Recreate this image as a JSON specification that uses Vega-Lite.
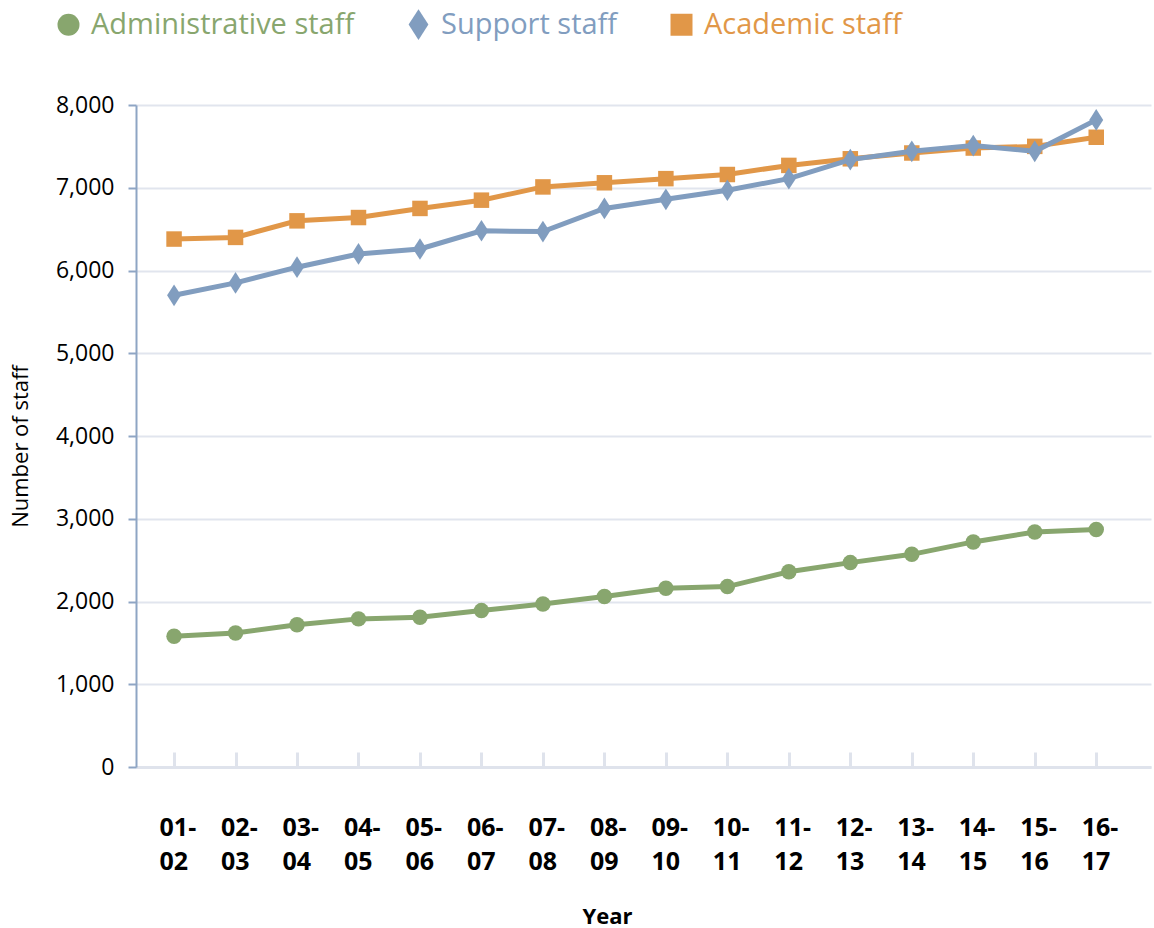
{
  "$schema": "https://vega.github.io/schema/vega-lite/v6.json",
  "width": 1015,
  "height": 662,
  "autosize": "none",
  "padding": {"left": 136, "top": 105, "right": 3, "bottom": 161},
  "config": {
    "font": "Open Sans",
    "view": {"stroke": null},
    "legend": {"labelFont": "Open Sans"}
  },
  "data": {
    "values": [
      {"year": "01-02", "group": "Administrative staff", "staff": 1580},
      {"year": "02-03", "group": "Administrative staff", "staff": 1620},
      {"year": "03-04", "group": "Administrative staff", "staff": 1720},
      {"year": "04-05", "group": "Administrative staff", "staff": 1790},
      {"year": "05-06", "group": "Administrative staff", "staff": 1810},
      {"year": "06-07", "group": "Administrative staff", "staff": 1890},
      {"year": "07-08", "group": "Administrative staff", "staff": 1970},
      {"year": "08-09", "group": "Administrative staff", "staff": 2060},
      {"year": "09-10", "group": "Administrative staff", "staff": 2160},
      {"year": "10-11", "group": "Administrative staff", "staff": 2180},
      {"year": "11-12", "group": "Administrative staff", "staff": 2360},
      {"year": "12-13", "group": "Administrative staff", "staff": 2470},
      {"year": "13-14", "group": "Administrative staff", "staff": 2570},
      {"year": "14-15", "group": "Administrative staff", "staff": 2720},
      {"year": "15-16", "group": "Administrative staff", "staff": 2840},
      {"year": "16-17", "group": "Administrative staff", "staff": 2870},
      {"year": "01-02", "group": "Academic staff", "staff": 6380},
      {"year": "02-03", "group": "Academic staff", "staff": 6400},
      {"year": "03-04", "group": "Academic staff", "staff": 6600},
      {"year": "04-05", "group": "Academic staff", "staff": 6640},
      {"year": "05-06", "group": "Academic staff", "staff": 6750},
      {"year": "06-07", "group": "Academic staff", "staff": 6850},
      {"year": "07-08", "group": "Academic staff", "staff": 7010},
      {"year": "08-09", "group": "Academic staff", "staff": 7060},
      {"year": "09-10", "group": "Academic staff", "staff": 7110},
      {"year": "10-11", "group": "Academic staff", "staff": 7160},
      {"year": "11-12", "group": "Academic staff", "staff": 7270},
      {"year": "12-13", "group": "Academic staff", "staff": 7350},
      {"year": "13-14", "group": "Academic staff", "staff": 7420},
      {"year": "14-15", "group": "Academic staff", "staff": 7480},
      {"year": "15-16", "group": "Academic staff", "staff": 7500},
      {"year": "16-17", "group": "Academic staff", "staff": 7610},
      {"year": "01-02", "group": "Support staff", "staff": 5700},
      {"year": "02-03", "group": "Support staff", "staff": 5850},
      {"year": "03-04", "group": "Support staff", "staff": 6040},
      {"year": "04-05", "group": "Support staff", "staff": 6200},
      {"year": "05-06", "group": "Support staff", "staff": 6260},
      {"year": "06-07", "group": "Support staff", "staff": 6480},
      {"year": "07-08", "group": "Support staff", "staff": 6470},
      {"year": "08-09", "group": "Support staff", "staff": 6750},
      {"year": "09-10", "group": "Support staff", "staff": 6860},
      {"year": "10-11", "group": "Support staff", "staff": 6970},
      {"year": "11-12", "group": "Support staff", "staff": 7110},
      {"year": "12-13", "group": "Support staff", "staff": 7340},
      {"year": "13-14", "group": "Support staff", "staff": 7440},
      {"year": "14-15", "group": "Support staff", "staff": 7510},
      {"year": "15-16", "group": "Support staff", "staff": 7440},
      {"year": "16-17", "group": "Support staff", "staff": 7820}
    ]
  },
  "encoding": {
    "x": {
      "field": "year",
      "type": "ordinal",
      "sort": null,
      "scale": {"type": "point", "padding": 0.755, "align": 0.41},
      "axis": {
        "title": "Year",
        "titleFontSize": 22,
        "titleFontWeight": "bold",
        "titleColor": "#000000",
        "titleX": 471,
        "titleY": 139,
        "labelAngle": 0,
        "labelFontSize": 25,
        "labelFontWeight": "bold",
        "labelColor": "#000000",
        "labelLineHeight": 34,
        "labelAlign": "left",
        "labelOffset": -15,
        "labelPadding": 63,
        "labelExpr": "[slice(datum.label, 0, 3), slice(datum.label, 3)]",
        "domainColor": "#dfe3ec",
        "domainWidth": 3,
        "tickColor": "#dfe3ec",
        "tickWidth": 3,
        "tickSize": -15,
        "grid": false
      }
    },
    "y": {
      "field": "staff",
      "type": "quantitative",
      "scale": {"domain": [0, 8000], "nice": false},
      "axis": {
        "title": "Number of staff",
        "titleFontSize": 22,
        "titleFontWeight": "normal",
        "titleColor": "#000000",
        "titlePadding": 23,
        "titleY": 341,
        "values": [0, 1000, 2000, 3000, 4000, 5000, 6000, 7000, 8000],
        "format": ",.0f",
        "labelFontSize": 23,
        "labelColor": "#000000",
        "labelPadding": 14,
        "domainColor": "#8ea5c4",
        "domainWidth": 2,
        "tickColor": "#8ea5c4",
        "tickWidth": 2,
        "tickSize": 8,
        "gridColor": "#e1e5ee",
        "gridWidth": 2
      }
    },
    "color": {
      "field": "group",
      "type": "nominal",
      "scale": {
        "domain": ["Administrative staff", "Support staff", "Academic staff"],
        "range": ["#88a66e", "#819dbf", "#e19748"]
      },
      "legend": {
        "title": null,
        "orient": "none",
        "direction": "horizontal",
        "legendX": -82,
        "legendY": -95,
        "labelFontSize": 29,
        "labelOffset": 8,
        "columnPadding": 49,
        "symbolSize": 484,
        "symbolStrokeWidth": 0,
        "symbolOpacity": 1,
        "labelLimit": 400,
        "encode": {
          "labels": {"update": {"fill": {"scale": "color", "field": "value"}}}
        }
      }
    }
  },
  "layer": [
    {
      "transform": [{"filter": "datum.group === 'Administrative staff'"}],
      "layer": [
        {"mark": {"type": "line", "strokeWidth": 5}},
        {
          "mark": {"type": "point", "filled": true, "opacity": 1, "size": 240},
          "encoding": {
            "shape": {
              "field": "group",
              "type": "nominal",
              "scale": {
                "domain": ["Administrative staff", "Support staff", "Academic staff"],
                "range": ["circle", "M0,-1.4L0.9,0L0,1.4L-0.9,0Z", "square"]
              }
            }
          }
        }
      ]
    },
    {
      "transform": [{"filter": "datum.group === 'Academic staff'"}],
      "layer": [
        {"mark": {"type": "line", "strokeWidth": 5}},
        {
          "mark": {"type": "point", "filled": true, "opacity": 1, "size": 240},
          "encoding": {
            "shape": {
              "field": "group",
              "type": "nominal",
              "scale": {
                "domain": ["Administrative staff", "Support staff", "Academic staff"],
                "range": ["circle", "M0,-1.4L0.9,0L0,1.4L-0.9,0Z", "square"]
              }
            }
          }
        }
      ]
    },
    {
      "transform": [{"filter": "datum.group === 'Support staff'"}],
      "layer": [
        {"mark": {"type": "line", "strokeWidth": 5}},
        {
          "mark": {"type": "point", "filled": true, "opacity": 1, "size": 240},
          "encoding": {
            "shape": {
              "field": "group",
              "type": "nominal",
              "scale": {
                "domain": ["Administrative staff", "Support staff", "Academic staff"],
                "range": ["circle", "M0,-1.4L0.9,0L0,1.4L-0.9,0Z", "square"]
              }
            }
          }
        }
      ]
    }
  ]
}
